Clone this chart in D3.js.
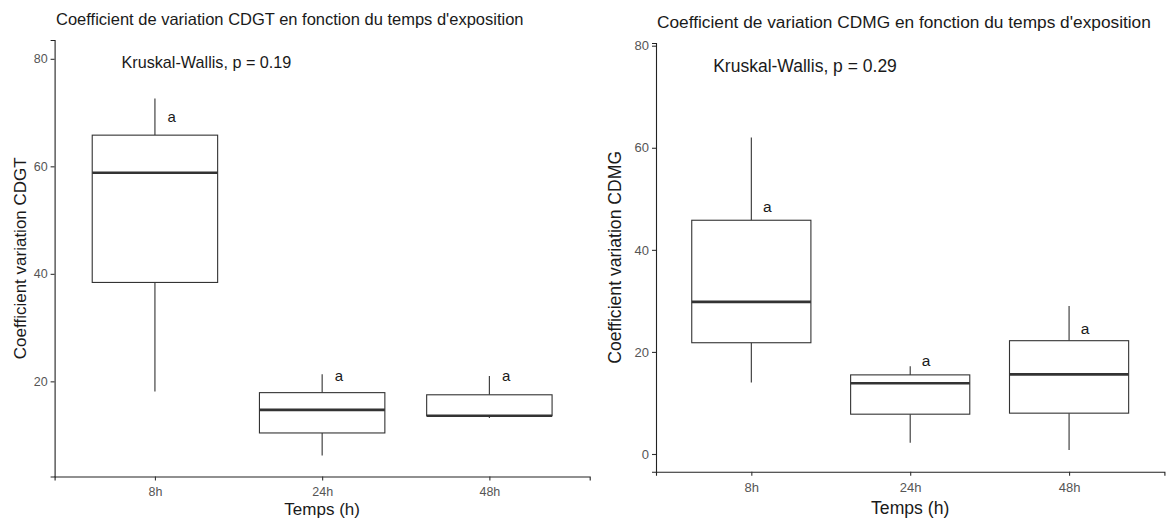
<!DOCTYPE html>
<html>
<head>
<meta charset="utf-8">
<script src="https://cdn.jsdelivr.net/npm/d3@7"></script>
<style>
  html, body { margin: 0; padding: 0; background: #fff; }
  svg { display: block; font-family: "Liberation Sans", Arial, sans-serif; }
</style>
</head>
<body>
<svg id="chart" width="1171" height="519"></svg>
<script>
// Groups (exposure time)
const categories = ["8h", "24h", "48h"];

// CDGT coefficient of variation: box statistics per group
const cdgtLow    = [18.1, 6.2, 13.2];
const cdgtQ1     = [38.4, 10.4, 13.6];
const cdgtMedian = [58.8, 14.7, 13.6];
const cdgtQ3     = [65.8, 17.9, 17.5];
const cdgtHigh   = [72.6, 21.3, 21.0];
const cdgtLetters = ["a", "a", "a"];
const cdgtLetterY = [69.3, 21.0, 21.0];
const cdgtTicks = [20, 40, 60, 80];

// CDMG coefficient of variation: box statistics per group
const cdmgLow    = [14.0, 2.2, 0.8];
const cdmgQ1     = [21.8, 7.8, 8.0];
const cdmgMedian = [29.8, 13.85, 15.6];
const cdmgQ3     = [45.8, 15.5, 22.2];
const cdmgHigh   = [62.0, 17.2, 29.0];
const cdmgLetters = ["a", "a", "a"];
const cdmgLetterY = [48.4, 18.4, 24.5];
const cdmgTicks = [0, 20, 40, 60, 80];

const svg = d3.select("#chart");
svg.append("rect").attr("width", 1171).attr("height", 519).attr("fill", "#fff");

function drawPanel(cfg) {
  const g = svg.append("g");
  const x = d3.scalePoint().domain(categories).range(cfg.xRange).padding(0.6);
  const y = d3.scaleLinear().domain(cfg.yDomain).range(cfg.yRange);
  const step = x.step();
  const boxW = step * 0.75;

  const rows = categories.map((c, i) => ({
    cat: c, lo: cfg.low[i], q1: cfg.q1[i], med: cfg.median[i],
    q3: cfg.q3[i], hi: cfg.high[i], letter: cfg.letters[i], ly: cfg.letterY[i]
  }));

  const stroke = "#333333";
  const b = g.selectAll("g.box").data(rows).join("g").attr("class", "box");
  // whiskers
  b.append("line")
    .attr("x1", d => x(d.cat)).attr("x2", d => x(d.cat))
    .attr("y1", d => y(d.q3)).attr("y2", d => y(d.hi))
    .attr("stroke", stroke).attr("stroke-width", 1.1);
  b.append("line")
    .attr("x1", d => x(d.cat)).attr("x2", d => x(d.cat))
    .attr("y1", d => y(d.q1)).attr("y2", d => y(d.lo))
    .attr("stroke", stroke).attr("stroke-width", 1.1);
  // box
  b.append("rect")
    .attr("x", d => x(d.cat) - boxW / 2).attr("width", boxW)
    .attr("y", d => y(d.q3)).attr("height", d => y(d.q1) - y(d.q3))
    .attr("fill", "#fff").attr("stroke", stroke).attr("stroke-width", 1.1);
  // median
  b.append("line")
    .attr("x1", d => x(d.cat) - boxW / 2).attr("x2", d => x(d.cat) + boxW / 2)
    .attr("y1", d => y(d.med)).attr("y2", d => y(d.med))
    .attr("stroke", stroke).attr("stroke-width", 2.6);
  // group letters
  b.append("text")
    .attr("x", d => x(d.cat) + step * 0.1)
    .attr("y", d => y(d.ly))
    .attr("dy", "0.35em")
    .attr("text-anchor", "middle")
    .attr("font-size", cfg.letterSize)
    .attr("fill", "#1a1a1a")
    .text(d => d.letter);

  // axes
  const yAxis = d3.axisLeft(y).tickValues(cfg.ticks).tickSizeOuter(0).tickSize(4).tickPadding(3);
  const ya = g.append("g").attr("transform", `translate(${cfg.xRange[0]},0)`).call(yAxis);
  const xAxis = d3.axisBottom(x).tickSizeOuter(0).tickSize(4).tickPadding(7);
  const xa = g.append("g").attr("transform", `translate(0,${cfg.yRange[0]})`).call(xAxis);
  [ya, xa].forEach(a => {
    a.select(".domain").attr("stroke", "#222").attr("stroke-width", 1.1);
    a.selectAll(".tick line").attr("stroke", "#333").attr("stroke-width", 1.1);
    a.selectAll(".tick text").attr("fill", "#555").attr("font-size", cfg.tickSize)
      .attr("font-family", "Liberation Sans, Arial, sans-serif");
  });

  // titles
  g.append("text")
    .attr("x", cfg.titleX).attr("y", cfg.titleY)
    .attr("font-size", cfg.titleSize).attr("fill", "#1a1a1a")
    .text(cfg.title);
  g.append("text")
    .attr("transform", `translate(${cfg.yTitleX},${(cfg.yRange[0] + cfg.yRange[1]) / 2}) rotate(-90)`)
    .attr("text-anchor", "middle")
    .attr("font-size", cfg.axisTitleSize).attr("fill", "#1a1a1a")
    .text(cfg.yTitle);
  g.append("text")
    .attr("x", (cfg.xRange[0] + cfg.xRange[1]) / 2).attr("y", cfg.xTitleY)
    .attr("text-anchor", "middle")
    .attr("font-size", cfg.axisTitleSize).attr("fill", "#1a1a1a")
    .text("Temps (h)");
  // test annotation
  g.append("text")
    .attr("x", x(categories[0]) - step * cfg.kwOffset).attr("y", y(cfg.kwY))
    .attr("dy", "0.35em")
    .attr("font-size", cfg.kwSize).attr("fill", "#1a1a1a")
    .text(cfg.kwLabel);
}

drawPanel({
  xRange: [54.6, 589.7], yDomain: [2.3, 83.5], yRange: [476.5, 40],
  low: cdgtLow, q1: cdgtQ1, median: cdgtMedian, q3: cdgtQ3, high: cdgtHigh,
  letters: cdgtLetters, letterY: cdgtLetterY, ticks: cdgtTicks,
  title: "Coefficient de variation CDGT en fonction du temps d'exposition",
  titleX: 56, titleY: 25, titleSize: 16.5,
  yTitle: "Coefficient variation CDGT", yTitleX: 26, xTitleY: 515,
  axisTitleSize: 17, tickSize: 12.5, letterSize: 15,
  kwLabel: "Kruskal-Wallis, p = 0.19", kwY: 79.4, kwOffset: 0.2, kwSize: 16.2
});

drawPanel({
  xRange: [656, 1164.4], yDomain: [-3.47, 80.53], yRange: [471.7, 43],
  low: cdmgLow, q1: cdmgQ1, median: cdmgMedian, q3: cdmgQ3, high: cdmgHigh,
  letters: cdmgLetters, letterY: cdmgLetterY, ticks: cdmgTicks,
  title: "Coefficient de variation CDMG en fonction du temps d'exposition",
  titleX: 657, titleY: 28, titleSize: 17.3,
  yTitle: "Coefficient variation CDMG", yTitleX: 621, xTitleY: 514,
  axisTitleSize: 17.6, tickSize: 13, letterSize: 15.5,
  kwLabel: "Kruskal-Wallis, p = 0.29", kwY: 76.0, kwOffset: 0.24, kwSize: 17.5
});
</script>
</body>
</html>
